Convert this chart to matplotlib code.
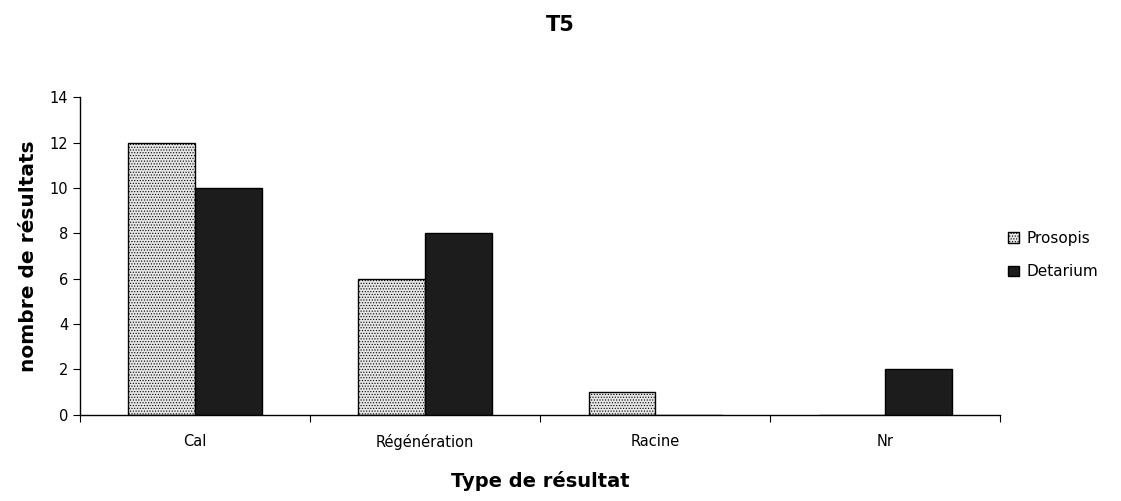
import numpy as np
import matplotlib.pyplot as plt

plt.rcParams['font.family'] = ['DejaVu Sans']
plt.rcParams['hatch.color'] = '#9a9a9a'
plt.rcParams['hatch.linewidth'] = 0.5

categories = ['Cal', 'Régénération', 'Racine', 'Nr']
prosopis = [12, 6, 1, 0]
detarium = [10, 8, 0, 2]

fig = plt.figure(figsize=(11.21, 5.01), dpi=100)
ax = fig.add_axes([0.0714, 0.172, 0.821, 0.634])

x = np.arange(len(categories))
w = 0.29
ax.bar(x - w / 2, prosopis, w, color='#e6e6e6', edgecolor='black',
       linewidth=1.0, hatch='......', label='Prosopis')
ax.bar(x + w / 2, detarium, w, color='#1c1c1c', edgecolor='black',
       linewidth=1.0, label='Detarium')

ax.set_xlim(-0.5, len(categories) - 0.5)
ax.set_ylim(0, 14)
ax.set_yticks(range(0, 15, 2))
ax.set_xticks(np.arange(-0.5, len(categories), 1.0))
ax.set_xticklabels([])
ax.set_xticks(x, minor=True)
ax.set_xticklabels(categories, minor=True)
ax.tick_params(axis='x', which='minor', length=0, pad=14, labelsize=10.5)
ax.tick_params(axis='x', which='major', length=5, direction='out')
ax.tick_params(axis='y', length=5, direction='out', labelsize=10.5)

for s in ['top', 'right']:
    ax.spines[s].set_visible(False)
ax.spines['left'].set_linewidth(1.0)
ax.spines['bottom'].set_linewidth(1.0)

ax.set_ylabel('nombre de résultats', fontsize=14.5, fontweight='bold', labelpad=8)
ax.set_xlabel('Type de résultat', fontsize=14, fontweight='bold', labelpad=15)
fig.suptitle('T5', fontsize=15, fontweight='bold', y=1 - 15 / 501, x=0.5, va='top')

ax.legend(loc='upper left', bbox_to_anchor=(1008 / 1121, 1 - 231 / 501),
          bbox_transform=fig.transFigure, frameon=False, borderpad=0,
          borderaxespad=0, fontsize=11, handlelength=0.7, handleheight=0.7,
          handletextpad=0.5, labelspacing=1.2)

fig.savefig('out.png', dpi=100)
